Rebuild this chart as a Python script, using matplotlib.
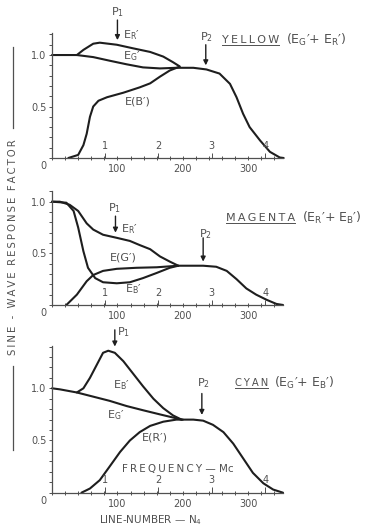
import matplotlib.pyplot as plt
from matplotlib.lines import Line2D
from matplotlib.ticker import MultipleLocator

plt.rcParams["font.family"] = "DejaVu Sans"
plt.rcParams["mathtext.fontset"] = "dejavusans"

INK = "#1e1e1e"
TXT = "#505050"

# frequency scale (Mc) marked along the line-number axis
mc_labels = ["1", "2", "3", "4"]
mc_lines = [81, 162, 244, 326]

# --- yellow (E_G' + E_R') ---
yel_g_x = [0, 38, 63, 88, 114, 139, 165, 190, 216, 236, 256, 272, 282, 292, 302, 318, 333, 348, 354]
yel_g_y = [1.0, 1.0, 0.98, 0.945, 0.91, 0.88, 0.87, 0.876, 0.876, 0.86, 0.82, 0.72, 0.59, 0.43, 0.30, 0.17, 0.06, 0.005, 0.0]
yel_r_x = [38, 48, 63, 73, 99, 124, 150, 170, 185, 195]
yel_r_y = [1.0, 1.05, 1.11, 1.12, 1.10, 1.065, 1.03, 0.985, 0.93, 0.89]
yel_b_x = [25, 40, 48, 53, 58, 63, 71, 84, 109, 134, 150, 165, 180, 195]
yel_b_y = [0.0, 0.03, 0.125, 0.235, 0.40, 0.50, 0.556, 0.59, 0.634, 0.686, 0.725, 0.79, 0.85, 0.887]

# --- magenta (E_R' + E_B') ---
mag_r_x = [0, 12, 27, 40, 53, 63, 78, 99, 119, 134, 150, 165, 180, 193, 211, 231, 251, 267, 282, 297, 312, 328, 343, 353]
mag_r_y = [1.0, 1.0, 0.97, 0.91, 0.79, 0.73, 0.68, 0.65, 0.62, 0.58, 0.54, 0.47, 0.42, 0.38, 0.38, 0.38, 0.37, 0.33, 0.25, 0.16, 0.10, 0.05, 0.01, 0.0]
mag_b_x = [0, 22, 33, 40, 48, 55, 66, 78, 99, 119, 139, 160, 180, 193]
mag_b_y = [1.0, 0.99, 0.91, 0.75, 0.52, 0.36, 0.26, 0.22, 0.21, 0.22, 0.26, 0.31, 0.36, 0.38]
mag_g_x = [22, 38, 53, 63, 78, 99, 129, 160, 193]
mag_g_y = [0.0, 0.10, 0.23, 0.29, 0.33, 0.35, 0.36, 0.365, 0.38]

# --- cyan (E_G' + E_B') ---
cyn_g_x = [0, 12, 38, 63, 88, 114, 139, 165, 185, 198, 216, 231, 246, 262, 277, 292, 307, 323, 338, 353]
cyn_g_y = [1.0, 0.99, 0.96, 0.92, 0.88, 0.83, 0.79, 0.75, 0.72, 0.70, 0.70, 0.69, 0.65, 0.58, 0.47, 0.33, 0.19, 0.09, 0.03, 0.0]
cyn_b_x = [38, 48, 58, 68, 78, 86, 96, 109, 124, 139, 155, 170, 185, 198]
cyn_b_y = [0.96, 1.0, 1.10, 1.22, 1.34, 1.36, 1.34, 1.26, 1.14, 1.02, 0.90, 0.81, 0.74, 0.70]
cyn_r_x = [45, 58, 73, 88, 104, 119, 134, 150, 170, 190, 200]
cyn_r_y = [0.0, 0.04, 0.12, 0.25, 0.39, 0.50, 0.58, 0.64, 0.68, 0.70, 0.70]

fig = plt.figure(figsize=(3.68, 5.27), dpi=100)
ax1 = fig.add_axes([0.1413, 0.7002, 0.6277, 0.2364])
ax2 = fig.add_axes([0.1413, 0.4213, 0.6277, 0.2156])
ax3 = fig.add_axes([0.1413, 0.0651, 0.6277, 0.2793])


def spaced(s):
    # the original lettering is drawn wide, so open it up with thin spaces
    return "\u2009".join(s)


def frame(ax, ytop):
    ax.set_xlim(0, 353)
    ax.set_ylim(0, ytop)
    for s in ["top", "right"]:
        ax.spines[s].set_visible(False)
    for s in ["left", "bottom"]:
        ax.spines[s].set_color(TXT)
        ax.spines[s].set_linewidth(0.9)
    ax.set_xticks([100, 200, 300])
    ax.xaxis.set_minor_locator(MultipleLocator(20))
    ax.set_yticks([0.5, 1.0])
    ax.set_yticklabels(["0.5", "1.0"])
    ax.yaxis.set_minor_locator(MultipleLocator(0.1))
    ax.tick_params(axis="x", which="both", direction="inout", length=3, width=0.7,
                   colors=TXT, labelsize=7, pad=3)
    ax.tick_params(axis="y", which="major", direction="out", length=2.5, width=0.7,
                   colors=TXT, labelsize=7, pad=1.5)
    ax.tick_params(axis="y", which="minor", direction="out", length=2, width=0.7, colors=TXT)
    ax.annotate("0", xy=(0, 0), xycoords="axes fraction", xytext=(-6, -6),
                textcoords="offset points", ha="center", va="center", fontsize=7, color=TXT)
    ax.vlines(mc_lines, 0, 0.05, color=TXT, lw=0.7)
    for xm, lab in zip(mc_lines, mc_labels):
        ax.text(xm, 0.12, lab, ha="center", va="center", fontsize=7, color=TXT)


def arrow(ax, x, y0, y1):
    ax.annotate("", xy=(x, y1), xytext=(x, y0), annotation_clip=False,
                arrowprops=dict(arrowstyle="-|>", color=INK, lw=1.0, mutation_scale=7,
                                shrinkA=0, shrinkB=0))


def label(ax, x, y, s, size=8, ha="left"):
    ax.text(x, y, s, ha=ha, va="center", fontsize=size, color=TXT, clip_on=False)


def name(ax, x, y, word, rest, size=8):
    t = ax.text(x, y, spaced(word), ha="left", va="center", fontsize=size, color=TXT, clip_on=False)
    fig.canvas.draw()
    bb = t.get_window_extent().transformed(ax.transData.inverted())
    ax.plot([bb.x0, bb.x1], [bb.y0, bb.y0], color=TXT, lw=0.7, clip_on=False)
    ax.text(bb.x1 + 10, y, rest, ha="left", va="center", fontsize=9, color=TXT, clip_on=False)


frame(ax1, 1.21)
frame(ax2, 1.1)
frame(ax3, 1.41)

kw = dict(color=INK, lw=1.5, solid_capstyle="round", solid_joinstyle="round", clip_on=False)

# yellow
ax1.plot(yel_g_x, yel_g_y, **kw)
ax1.plot(yel_r_x, yel_r_y, **kw)
ax1.plot(yel_b_x, yel_b_y, **kw)
label(ax1, 108, 1.19, r"E$_\mathregular{R}$′")
label(ax1, 108, 0.99, r"E$_\mathregular{G}$′")
label(ax1, 111, 0.55, "E(B′)")
arrow(ax1, 100, 1.34, 1.145)
label(ax1, 100, 1.42, r"P$_\mathregular{1}$", ha="center")
arrow(ax1, 235, 1.10, 0.90)
label(ax1, 236, 1.17, r"P$_\mathregular{2}$", ha="center")
name(ax1, 260, 1.145, "YELLOW", r"(E$_\mathregular{G}$′+ E$_\mathregular{R}$′)")

# magenta
ax2.plot(mag_r_x, mag_r_y, **kw)
ax2.plot(mag_b_x, mag_b_y, **kw)
ax2.plot(mag_g_x, mag_g_y, **kw)
label(ax2, 106, 0.73, r"E$_\mathregular{R}$′")
label(ax2, 109, 0.455, "E(G′)", ha="center")
label(ax2, 111, 0.15, r"E$_\mathregular{B}$′")
arrow(ax2, 97, 0.86, 0.70)
label(ax2, 95, 0.94, r"P$_\mathregular{1}$", ha="center")
arrow(ax2, 231, 0.65, 0.42)
label(ax2, 234, 0.69, r"P$_\mathregular{2}$", ha="center")
name(ax2, 266, 0.84, "MAGENTA", r"(E$_\mathregular{R}$′+ E$_\mathregular{B}$′)")

# cyan
ax3.plot(cyn_g_x, cyn_g_y, **kw)
ax3.plot(cyn_b_x, cyn_b_y, **kw)
ax3.plot(cyn_r_x, cyn_r_y, **kw)
label(ax3, 93, 1.03, r"E$_\mathregular{B}$′")
label(ax3, 84, 0.745, r"E$_\mathregular{G}$′")
label(ax3, 137, 0.53, "E(R′)")
arrow(ax3, 96, 1.56, 1.40)
label(ax3, 99, 1.54, r"P$_\mathregular{1}$")
arrow(ax3, 229, 0.95, 0.745)
label(ax3, 231, 1.05, r"P$_\mathregular{2}$", ha="center")
name(ax3, 279, 1.05, "CYAN", r"(E$_\mathregular{G}$′+ E$_\mathregular{B}$′)", size=7.2)
label(ax3, 192, 0.23, spaced("FREQUENCY") + " — Mc", size=7.5, ha="center")
label(ax3, 150, -0.26, r"LINE-NUMBER — N$_\mathregular{4}$", size=7.5, ha="center")

# shared y label with dashes above and below
fig.text(0.0353, 0.532, spaced("SINE - WAVE") + "  " + spaced("RESPONSE") + "  " + spaced("FACTOR"),
         rotation=90, ha="center", va="center", fontsize=7.3, color=TXT)
fig.add_artist(Line2D([0.0353, 0.0353], [0.757, 0.911], color=TXT, lw=0.9))
fig.add_artist(Line2D([0.0353, 0.0353], [0.146, 0.3055], color=TXT, lw=0.9))

fig.savefig("out.png", dpi=100, facecolor="white")
